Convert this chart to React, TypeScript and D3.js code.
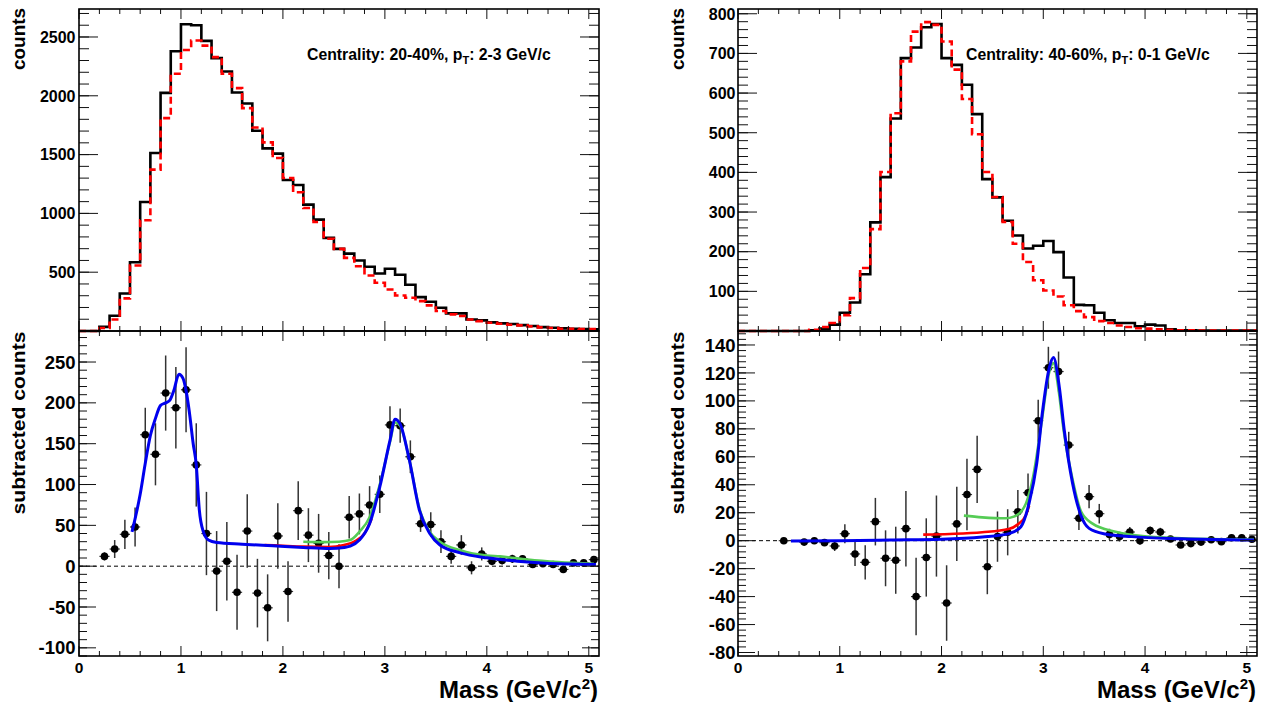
import React from 'react';
import * as d3 from 'd3';

// ---------- data ----------
const BIN_LOWS = [
  0.0, 0.1, 0.2, 0.3, 0.4, 0.5, 0.6, 0.7, 0.8, 0.9,
  1.0, 1.1, 1.2, 1.3, 1.4, 1.5, 1.6, 1.7, 1.8, 1.9,
  2.0, 2.1, 2.2, 2.3, 2.4, 2.5, 2.6, 2.7, 2.8, 2.9,
  3.0, 3.1, 3.2, 3.3, 3.4, 3.5, 3.6, 3.7, 3.8, 3.9,
  4.0, 4.1, 4.2, 4.3, 4.4, 4.5, 4.6, 4.7, 4.8, 4.9, 5.0,
];
const BIN_END = 5.1;

const TL_SAME = [
  0, 0, 35, 130, 319, 585, 1097, 1513, 2025, 2379,
  2608, 2600, 2467, 2320, 2207, 2028, 1935, 1703, 1553, 1508,
  1284, 1241, 1075, 947, 792, 698, 658, 599, 546, 489,
  529, 478, 393, 288, 249, 198, 150, 150, 98, 90,
  73, 65, 59, 50, 42, 33, 28, 22, 19, 16, 14,
];
const TL_MIXED = [
  0, 0, 25, 98, 277, 557, 942, 1372, 1810, 2187,
  2390, 2470, 2427, 2329, 2187, 2065, 1895, 1731, 1604, 1471,
  1301, 1180, 1046, 927, 784, 698, 622, 551, 472, 410,
  353, 302, 283, 254, 218, 170, 141, 127, 98, 84,
  70, 62, 53, 48, 39, 31, 25, 19, 19, 16, 16,
];
const TR_SAME = [
  0, 0, 0, 0, 0, 0, 0, 2, 6, 16,
  46, 72, 143, 274, 388, 536, 688, 715, 766, 774,
  688, 671, 621, 547, 383, 337, 278, 241, 208, 215,
  227, 199, 135, 66, 65, 46, 27, 20, 20, 12,
  16, 14, 4, 2, 2, 1, 1, 1, 1, 1, 1,
];
const TR_MIXED = [
  0, 0, 0, 0, 0, 0, 0, 3, 10, 20,
  40, 83, 159, 257, 401, 549, 680, 755, 779, 772,
  730, 659, 585, 496, 401, 338, 275, 220, 174, 128,
  102, 87, 65, 50, 35, 25, 20, 14, 10, 7,
  6, 4, 3, 2, 2, 1, 1, 1, 1, 1, 1,
];

const BL_X = [
  0.25, 0.35, 0.45, 0.55, 0.65, 0.75, 0.85, 0.95, 1.05, 1.15,
  1.25, 1.35, 1.45, 1.55, 1.65, 1.75, 1.85, 1.95, 2.05, 2.15,
  2.25, 2.35, 2.45, 2.55, 2.65, 2.75, 2.85, 2.95, 3.05, 3.15,
  3.25, 3.35, 3.45, 3.55, 3.65, 3.75, 3.85, 3.95, 4.05, 4.15,
  4.25, 4.35, 4.45, 4.55, 4.65, 4.75, 4.85, 4.95, 5.05,
];
const BL_Y = [
  12, 21, 39, 48, 161, 137, 212, 194, 216, 124,
  40, -6, 6, -32, 43, -33, -51, 37, -31, 68,
  38, 28, 13, 0, 60, 64, 75, 88, 173, 172,
  134, 52, 51, 30, 12, 26, -2, 15, 6, 7,
  9, 9, 2, 3, 2, -4, 4, 4, 8,
];
const BL_ERR = [
  5, 11, 18, 24, 33, 38, 46, 50, 52, 51,
  51, 49, 48, 46, 45, 42, 41, 40, 37, 36,
  33, 36, 29, 27, 26, 25, 23, 23, 23, 21,
  20, 10, 15, 14, 9, 12, 8, 8, 5, 5,
  5, 4.5, 3, 3, 3, 3, 3, 3, 3,
];

const BR_X = [
  0.45, 0.65, 0.75, 0.85, 0.95, 1.05, 1.15,
  1.25, 1.35, 1.45, 1.55, 1.65, 1.75, 1.85, 1.95, 2.05, 2.15,
  2.25, 2.35, 2.45, 2.55, 2.65, 2.75, 2.85, 2.95, 3.05, 3.15,
  3.25, 3.35, 3.45, 3.55, 3.65, 3.75, 3.85, 3.95, 4.05, 4.15,
  4.25, 4.35, 4.45, 4.55, 4.65, 4.75, 4.85, 4.95, 5.05,
];
const BR_Y = [
  0, -1, 0, -1.4, -3.8, 5, -9.5,
  -15.5, 13.6, -12.6, -14, 8.6, -40, -12, 3.3, -44.6, 12,
  33, 51, -18.6, 2.9, 6, 20.7, 34.3, 85.8, 123.7, 121,
  68.4, 16, 31.5, 19.3, 4.5, 2.9, 6.2, 0, 7.2, 6.2,
  1.2, -3.1, -2.1, -1, 0.7, -0.7, 2.1, 2.1, 1,
];
const BR_ERR = [
  1, 1, 1.5, 2.4, 3.6, 6.8, 8.6,
  12.3, 17, 20, 24, 27, 27.7, 28, 29, 27, 26.6,
  25.6, 24, 19.7, 18, 16.5, 15.5, 13.7, 15, 15, 14.3,
  9.5, 8.3, 8.3, 7, 4, 3.5, 3.5, 3, 3, 3,
  2, 2, 2, 2, 2, 2, 2, 2, 2,
];

// fit curves: [mass, counts]
const BL_TOTAL: [number, number][] = [
  [0.52, 42], [0.6, 88], [0.65, 126], [0.7, 160], [0.75, 181], [0.8, 197], [0.85, 200],
  [0.89, 203], [0.93, 215], [0.98, 235], [1.02, 230], [1.05, 215], [1.08, 191], [1.12, 150],
  [1.15, 124], [1.18, 69], [1.22, 42], [1.27, 32], [1.35, 29], [1.6, 27], [1.9, 25],
  [2.2, 23], [2.46, 21.6], [2.6, 23], [2.66, 24.5], [2.75, 32], [2.85, 52], [2.95, 97],
  [3.05, 154], [3.1, 180], [3.15, 174], [3.24, 130], [3.34, 68], [3.44, 40], [3.54, 26],
  [3.74, 16.3], [4.0, 10.2], [4.3, 6.1], [4.62, 3.3], [5.07, 2],
];
const BL_RED: [number, number][] = [
  [1.82, 26], [2.0, 25], [2.2, 24], [2.45, 23.5], [2.6, 26], [2.7, 30], [2.8, 40], [2.87, 58],
];
const BL_GREEN: [number, number][] = [
  [2.2, 30], [2.4, 29.5], [2.55, 30], [2.66, 32], [2.75, 42], [2.85, 60], [2.95, 100],
  [3.05, 152], [3.1, 176], [3.15, 172], [3.24, 130], [3.34, 70], [3.44, 42], [3.54, 30],
  [3.74, 19.5], [4.0, 13], [4.13, 12], [4.4, 8], [4.7, 5], [5.05, 3],
];
const BR_TOTAL: [number, number][] = [
  [0.52, -0.2], [1.0, 0], [1.5, 0.5], [2.0, 1], [2.4, 2.6], [2.67, 5.2], [2.78, 10],
  [2.86, 26.7], [2.935, 55], [2.99, 91], [3.06, 124], [3.1, 131], [3.157, 110], [3.206, 79],
  [3.288, 41], [3.37, 18], [3.45, 8.8], [3.61, 4.8], [3.87, 2.9], [4.36, 1.4], [5.07, 0.5],
];
const BR_RED: [number, number][] = [
  [1.82, 4.3], [2.08, 4.8], [2.4, 6], [2.66, 8.3], [2.75, 11.7], [2.83, 18.4], [2.86, 25],
];
const BR_GREEN: [number, number][] = [
  [2.22, 17.9], [2.4, 16.7], [2.63, 16], [2.71, 17.2], [2.78, 20.7], [2.83, 26.7], [2.9, 45.8],
  [2.99, 88], [3.05, 118], [3.1, 127], [3.15, 108], [3.2, 79], [3.29, 43], [3.37, 21],
  [3.48, 12.4], [3.71, 6.4], [4.04, 2.9], [4.36, 1.7], [5.07, 0.8],
];

const X_TICKS = [0, 1, 2, 3, 4, 5];
const TL_TICKS = [500, 1000, 1500, 2000, 2500];
const TR_TICKS = [100, 200, 300, 400, 500, 600, 700, 800];
const BL_TICKS = [-100, -50, 0, 50, 100, 150, 200, 250];
const BR_TICKS = [-80, -60, -40, -20, 0, 20, 40, 60, 80, 100, 120, 140];

// ---------- layout ----------
const FONT = "'Liberation Sans', Arial, Helvetica, sans-serif";
const TOP_Y0 = 9, MID_Y = 331, BOT_Y1 = 656;

type Col = {
  x0: number; x1: number;
  topDomain: [number, number]; botDomain: [number, number];
  topTicks: number[]; topMinorStep: number;
  botTicks: number[]; botMinorStep: number;
  same: number[]; mixed: number[];
  px: number[]; py: number[]; pe: number[];
  total: [number, number][]; red: [number, number][]; green: [number, number][];
  label: [string, string];
  labelX: number;
  yLabelGap: number;
};

const COLS: Col[] = [
  {
    x0: 79, x1: 599,
    topDomain: [0, 2738], botDomain: [-110, 288],
    topTicks: TL_TICKS, topMinorStep: 100,
    botTicks: BL_TICKS, botMinorStep: 10,
    same: TL_SAME, mixed: TL_MIXED,
    px: BL_X, py: BL_Y, pe: BL_ERR,
    total: BL_TOTAL, red: BL_RED, green: BL_GREEN,
    label: ['Centrality: 20-40%, p', ': 2-3 GeV/c'],
    labelX: 307,
    yLabelGap: 3.5,
  },
  {
    x0: 738, x1: 1257,
    topDomain: [0, 812], botDomain: [-82.5, 150],
    topTicks: TR_TICKS, topMinorStep: 20,
    botTicks: BR_TICKS, botMinorStep: 4,
    same: TR_SAME, mixed: TR_MIXED,
    px: BR_X, py: BR_Y, pe: BR_ERR,
    total: BR_TOTAL, red: BR_RED, green: BR_GREEN,
    label: ['Centrality: 40-60%, p', ': 0-1 GeV/c'],
    labelX: 966,
    yLabelGap: 2.5,
  },
];

function minorValues(domain: [number, number], step: number): number[] {
  const out: number[] = [];
  const start = Math.ceil(domain[0] / step - 1e-9) * step;
  for (let v = start; v <= domain[1] + 1e-9; v += step) out.push(+v.toFixed(6));
  return out;
}

function Frame({ x, y, x0, x1, y0, y1, yMajor, yMinorStep, majLen, minLen }: any) {
  const yMinor = minorValues(y.domain() as [number, number], yMinorStep);
  const xMinor = minorValues([0, 5.1], 0.2);
  const tk = { stroke: '#111', strokeWidth: 1 };
  return (
    <g>
      {yMinor.map((v: number) => (
        <g key={'ym' + v}>
          <line x1={x0} x2={x0 + minLen} y1={y(v)} y2={y(v)} {...tk} />
          <line x1={x1} x2={x1 - minLen} y1={y(v)} y2={y(v)} {...tk} />
        </g>
      ))}
      {yMajor.map((v: number) => (
        <g key={'yM' + v}>
          <line x1={x0} x2={x0 + majLen} y1={y(v)} y2={y(v)} {...tk} />
          <line x1={x1} x2={x1 - majLen} y1={y(v)} y2={y(v)} {...tk} />
        </g>
      ))}
      {xMinor.map((v: number) => {
        const len = Math.abs(v - Math.round(v)) < 1e-6 ? 10 : 5;
        return (
          <g key={'xm' + v}>
            <line x1={x(v)} x2={x(v)} y1={y1} y2={y1 - len} {...tk} />
            <line x1={x(v)} x2={x(v)} y1={y0} y2={y0 + len} {...tk} />
          </g>
        );
      })}
      <rect x={x0} y={y0} width={x1 - x0} height={y1 - y0} fill="none" stroke="#000" strokeWidth={1.6} />
    </g>
  );
}

function Column({ c }: { c: Col }) {
  const x = d3.scaleLinear().domain([0, 5.1]).range([c.x0, c.x1]);
  const yT = d3.scaleLinear().domain(c.topDomain).range([MID_Y, TOP_Y0]);
  const yB = d3.scaleLinear().domain(c.botDomain).range([BOT_Y1, MID_Y]);

  const histLine = d3
    .line<[number, number]>()
    .x((d) => x(d[0]))
    .y((d) => yT(d[1]))
    .curve(d3.curveStepAfter);
  const histPts = (vals: number[]) => {
    const pts: [number, number][] = BIN_LOWS.map((e, i) => [e, vals[i]]);
    pts.push([BIN_END, vals[vals.length - 1]]);
    return pts;
  };
  const fitLine = d3
    .line<[number, number]>()
    .x((d) => x(d[0]))
    .y((d) => yB(d[1]))
    .curve(d3.curveMonotoneX);

  const ylabelX = c.x0 - c.yLabelGap;
  const titleBaseX = c.x0 - 54;

  return (
    <g>
      {/* top panel */}
      <path d={histLine(histPts(c.same)) || ''} fill="none" stroke="#000" strokeWidth={2.6} />
      <path d={histLine(histPts(c.mixed)) || ''} fill="none" stroke="#ff0000" strokeWidth={2.6} strokeDasharray="7,4" />
      <Frame x={x} y={yT} x0={c.x0} x1={c.x1} y0={TOP_Y0} y1={MID_Y} yMajor={c.topTicks}
        yMinorStep={c.topMinorStep} majLen={19} minLen={10} />
      {c.topTicks.map((v) => (
        <text key={'tl' + v} x={ylabelX} y={yT(v) + 5.8} textAnchor="end" fontSize={16}
          fontWeight="bold" fontFamily={FONT}>{v}</text>
      ))}
      <text x={c.labelX} y={60} fontSize={15.8} fontWeight="bold" fontFamily={FONT}>
        <tspan>{c.label[0]}</tspan>
        <tspan dy={4} fontSize={11}>T</tspan>
        <tspan dy={-4}>{c.label[1]}</tspan>
      </text>
      <text transform={`translate(${titleBaseX},${TOP_Y0 - 1}) rotate(-90)`} textAnchor="end"
        fontSize={18} fontWeight="bold" fontFamily={FONT} textLength={62} lengthAdjust="spacingAndGlyphs">counts</text>

      {/* bottom panel */}
      <line x1={c.x0} x2={c.x1} y1={yB(0)} y2={yB(0)} stroke="#000" strokeWidth={1} strokeDasharray="4,3" />
      {c.px.map((px, i) => (
        <g key={'p' + i}>
          <line x1={x(px)} x2={x(px)} y1={yB(c.py[i] - c.pe[i])} y2={yB(c.py[i] + c.pe[i])}
            stroke="#333" strokeWidth={1.5} />
          <line x1={x(px - 0.05)} x2={x(px + 0.05)} y1={yB(c.py[i])} y2={yB(c.py[i])}
            stroke="#333" strokeWidth={1.2} />
          <circle cx={x(px)} cy={yB(c.py[i])} r={3.8} fill="#000" />
        </g>
      ))}
      <path d={fitLine(c.green) || ''} fill="none" stroke="#55cc55" strokeWidth={2.6} />
      <path d={fitLine(c.red) || ''} fill="none" stroke="#ff0000" strokeWidth={2.6} />
      <path d={fitLine(c.total) || ''} fill="none" stroke="#0000ee" strokeWidth={3} />
      <Frame x={x} y={yB} x0={c.x0} x1={c.x1} y0={MID_Y} y1={BOT_Y1} yMajor={c.botTicks}
        yMinorStep={c.botMinorStep} majLen={17} minLen={8} />
      {c.botTicks.map((v) => (
        <text key={'bl' + v} x={ylabelX} y={yB(v) + 6.6} textAnchor="end" fontSize={18.5}
          fontWeight="bold" fontFamily={FONT}>{v}</text>
      ))}
      {X_TICKS.map((v) => (
        <text key={'xl' + v} x={x(v)} y={672.5} textAnchor="middle" fontSize={15.5}
          fontWeight="bold" fontFamily={FONT}>{v}</text>
      ))}
      <text transform={`translate(${titleBaseX},${MID_Y + 0.5}) rotate(-90)`} textAnchor="end"
        fontSize={19} fontWeight="bold" fontFamily={FONT} textLength={183} lengthAdjust="spacingAndGlyphs">subtracted counts</text>
      <text x={c.x1 - 1} y={698} textAnchor="end" fontSize={24} fontWeight="bold" fontFamily={FONT}>
        <tspan>Mass (GeV/c</tspan>
        <tspan dy={-9} fontSize={15}>2</tspan>
        <tspan dy={9}>)</tspan>
      </text>
    </g>
  );
}

export default function App() {
  return (
    <svg width={1266} height={702} viewBox="0 0 1266 702"
      style={{ position: 'absolute', left: 0, top: 0, background: '#fff', display: 'block' }}>
      <rect x={0} y={0} width={1266} height={702} fill="#fff" />
      {COLS.map((c, i) => (
        <Column key={i} c={c} />
      ))}
    </svg>
  );
}
